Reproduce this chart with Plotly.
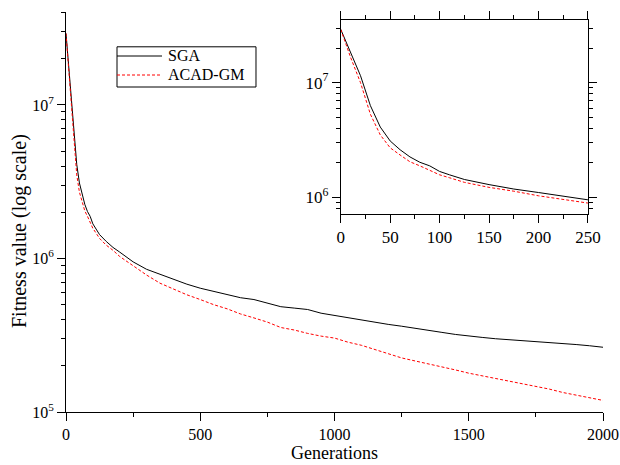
import plotly.graph_objects as go

generations = [0, 10, 20, 30, 40, 50, 60, 70, 80, 90, 100, 110, 125, 150, 175, 200, 225, 250,
               300, 350, 400, 450, 500, 550, 600, 650, 700, 750, 800, 850, 900, 950, 1000,
               1050, 1100, 1150, 1200, 1250, 1300, 1350, 1400, 1450, 1500, 1550, 1600, 1650,
               1700, 1750, 1800, 1850, 1900, 1950, 2000]

sga = [2.92e7, 1.82e7, 1.15e7, 6.3e6, 4.1e6, 3.1e6, 2.6e6, 2.25e6, 2.02e6, 1.88e6, 1.68e6,
       1.57e6, 1.43e6, 1.29e6, 1.18e6, 1.10e6, 1.02e6, 9.5e5,
       8.5e5, 7.9e5, 7.3e5, 6.8e5, 6.4e5, 6.1e5, 5.8e5, 5.55e5, 5.4e5, 5.1e5, 4.85e5, 4.75e5,
       4.65e5, 4.4e5, 4.25e5, 4.1e5, 3.97e5, 3.85e5, 3.72e5, 3.62e5, 3.5e5, 3.4e5, 3.3e5,
       3.2e5, 3.12e5, 3.06e5, 3.0e5, 2.96e5, 2.93e5, 2.89e5, 2.85e5, 2.81e5, 2.75e5, 2.7e5,
       2.64e5]

acad = [2.92e7, 1.66e7, 1.0e7, 5.3e6, 3.5e6, 2.7e6, 2.34e6, 2.04e6, 1.88e6, 1.72e6, 1.57e6,
        1.48e6, 1.35e6, 1.22e6, 1.13e6, 1.03e6, 9.6e5, 8.9e5,
        7.8e5, 6.9e5, 6.3e5, 5.8e5, 5.4e5, 5.0e5, 4.7e5, 4.35e5, 4.1e5, 3.85e5, 3.55e5, 3.42e5,
        3.25e5, 3.12e5, 3.03e5, 2.85e5, 2.72e5, 2.55e5, 2.4e5, 2.25e5, 2.15e5, 2.06e5, 1.97e5,
        1.88e5, 1.79e5, 1.72e5, 1.65e5, 1.58e5, 1.53e5, 1.47e5, 1.41e5, 1.34e5, 1.29e5, 1.24e5,
        1.19e5]

series_names = ["SGA", "ACAD-GM"]
x_title = "Generations"
y_title = "Fitness value (log scale)"

main_x_ticks = [0, 500, 1000, 1500, 2000]
main_x_minor = [250, 750, 1250, 1750]
inset_x_ticks = [0, 50, 100, 150, 200, 250]
inset_x_minor = [25, 75, 125, 175, 225]
y_major = [1e5, 1e6, 1e7]
y_major_text = ["10<sup>5</sup>", "10<sup>6</sup>", "10<sup>7</sup>"]
y_minor = [m * 10 ** e for e in range(5, 8) for m in range(2, 10)]

inset_n = generations.index(250) + 1

FONT = "Liberation Serif, Times New Roman, serif"
black_line = dict(color="black", width=1)
red_line = dict(color="#ff0000", width=1, dash="3px,2px")
styles = [black_line, red_line]

fig = go.Figure()
for name, vals, st in zip(series_names, [sga, acad], styles):
    fig.add_trace(go.Scatter(x=generations, y=vals, mode="lines", name=name,
                             line=st, showlegend=False, xaxis="x", yaxis="y"))
for name, vals, st in zip(series_names, [sga, acad], styles):
    fig.add_trace(go.Scatter(x=generations[:inset_n], y=vals[:inset_n], mode="lines",
                             name=name, line=st, showlegend=False,
                             xaxis="x2", yaxis="y2"))


def axis(size, **kw):
    d = dict(showgrid=False, zeroline=False, showline=True, linecolor="black",
             linewidth=1, ticks="outside", tickcolor="black", tickwidth=1,
             ticklen=8, automargin=False,
             tickfont=dict(family=FONT, size=size, color="black"))
    d.update(kw)
    return d


def minor(vals):
    return dict(tickvals=vals, ticks="outside", ticklen=4, tickcolor="black", tickwidth=1)


# Manual legend (box, line samples, labels) in plot-area paper coordinates
leg_x0, leg_x1 = 0.095, 0.3538
leg_y0, leg_y1 = 0.8125, 0.913
leg_line_x1 = 0.1788
leg_text_x = 0.186
leg_rows = [0.89, 0.8425]

shapes = [dict(type="rect", xref="paper", yref="paper", x0=leg_x0, x1=leg_x1,
               y0=leg_y0, y1=leg_y1, line=dict(color="black", width=1),
               fillcolor="white", layer="above")]
annotations = []
for name, st, ry in zip(series_names, styles, leg_rows):
    shapes.append(dict(type="line", xref="paper", yref="paper", x0=leg_x0, x1=leg_line_x1,
                       y0=ry, y1=ry, line=st, layer="above"))
    annotations.append(dict(text=name, xref="paper", yref="paper", x=leg_text_x, y=ry,
                            xanchor="left", yanchor="middle", showarrow=False,
                            font=dict(family=FONT, size=16, color="black")))

annotations.append(dict(text=y_title, xref="paper", yref="paper", x=-0.0875, y=0.4525,
                        xanchor="center", yanchor="middle", textangle=-90,
                        showarrow=False, font=dict(family=FONT, size=20, color="black")))

fig.update_layout(
    width=620, height=465,
    margin=dict(l=66, r=17, t=12, b=53),
    paper_bgcolor="white", plot_bgcolor="white",
    font=dict(family=FONT, size=16, color="black"),
    showlegend=False,
    shapes=shapes,
    annotations=annotations,
    xaxis=axis(16, range=[0, 2000], domain=[0, 1], anchor="y",
               tickmode="array", tickvals=main_x_ticks, minor=minor(main_x_minor),
               title=dict(text=x_title, font=dict(family=FONT, size=18, color="black"),
                          standoff=4)),
    yaxis=axis(16, type="log", range=[5, 7.605], domain=[0, 1], anchor="x",
               tickmode="array", tickvals=y_major, ticktext=y_major_text,
               minor=minor(y_minor)),
    xaxis2=axis(17, range=[0, 250], domain=[0.5116, 0.972], anchor="y2",
                mirror="ticks", tickmode="array", tickvals=inset_x_ticks,
                minor=minor(inset_x_minor)),
    yaxis2=axis(17, type="log", range=[5.854, 7.547], domain=[0.495, 0.98],
                anchor="x2", mirror="ticks", tickmode="array", tickvals=y_major,
                ticktext=y_major_text, minor=minor(y_minor)),
)

fig.write_html("out.html")
